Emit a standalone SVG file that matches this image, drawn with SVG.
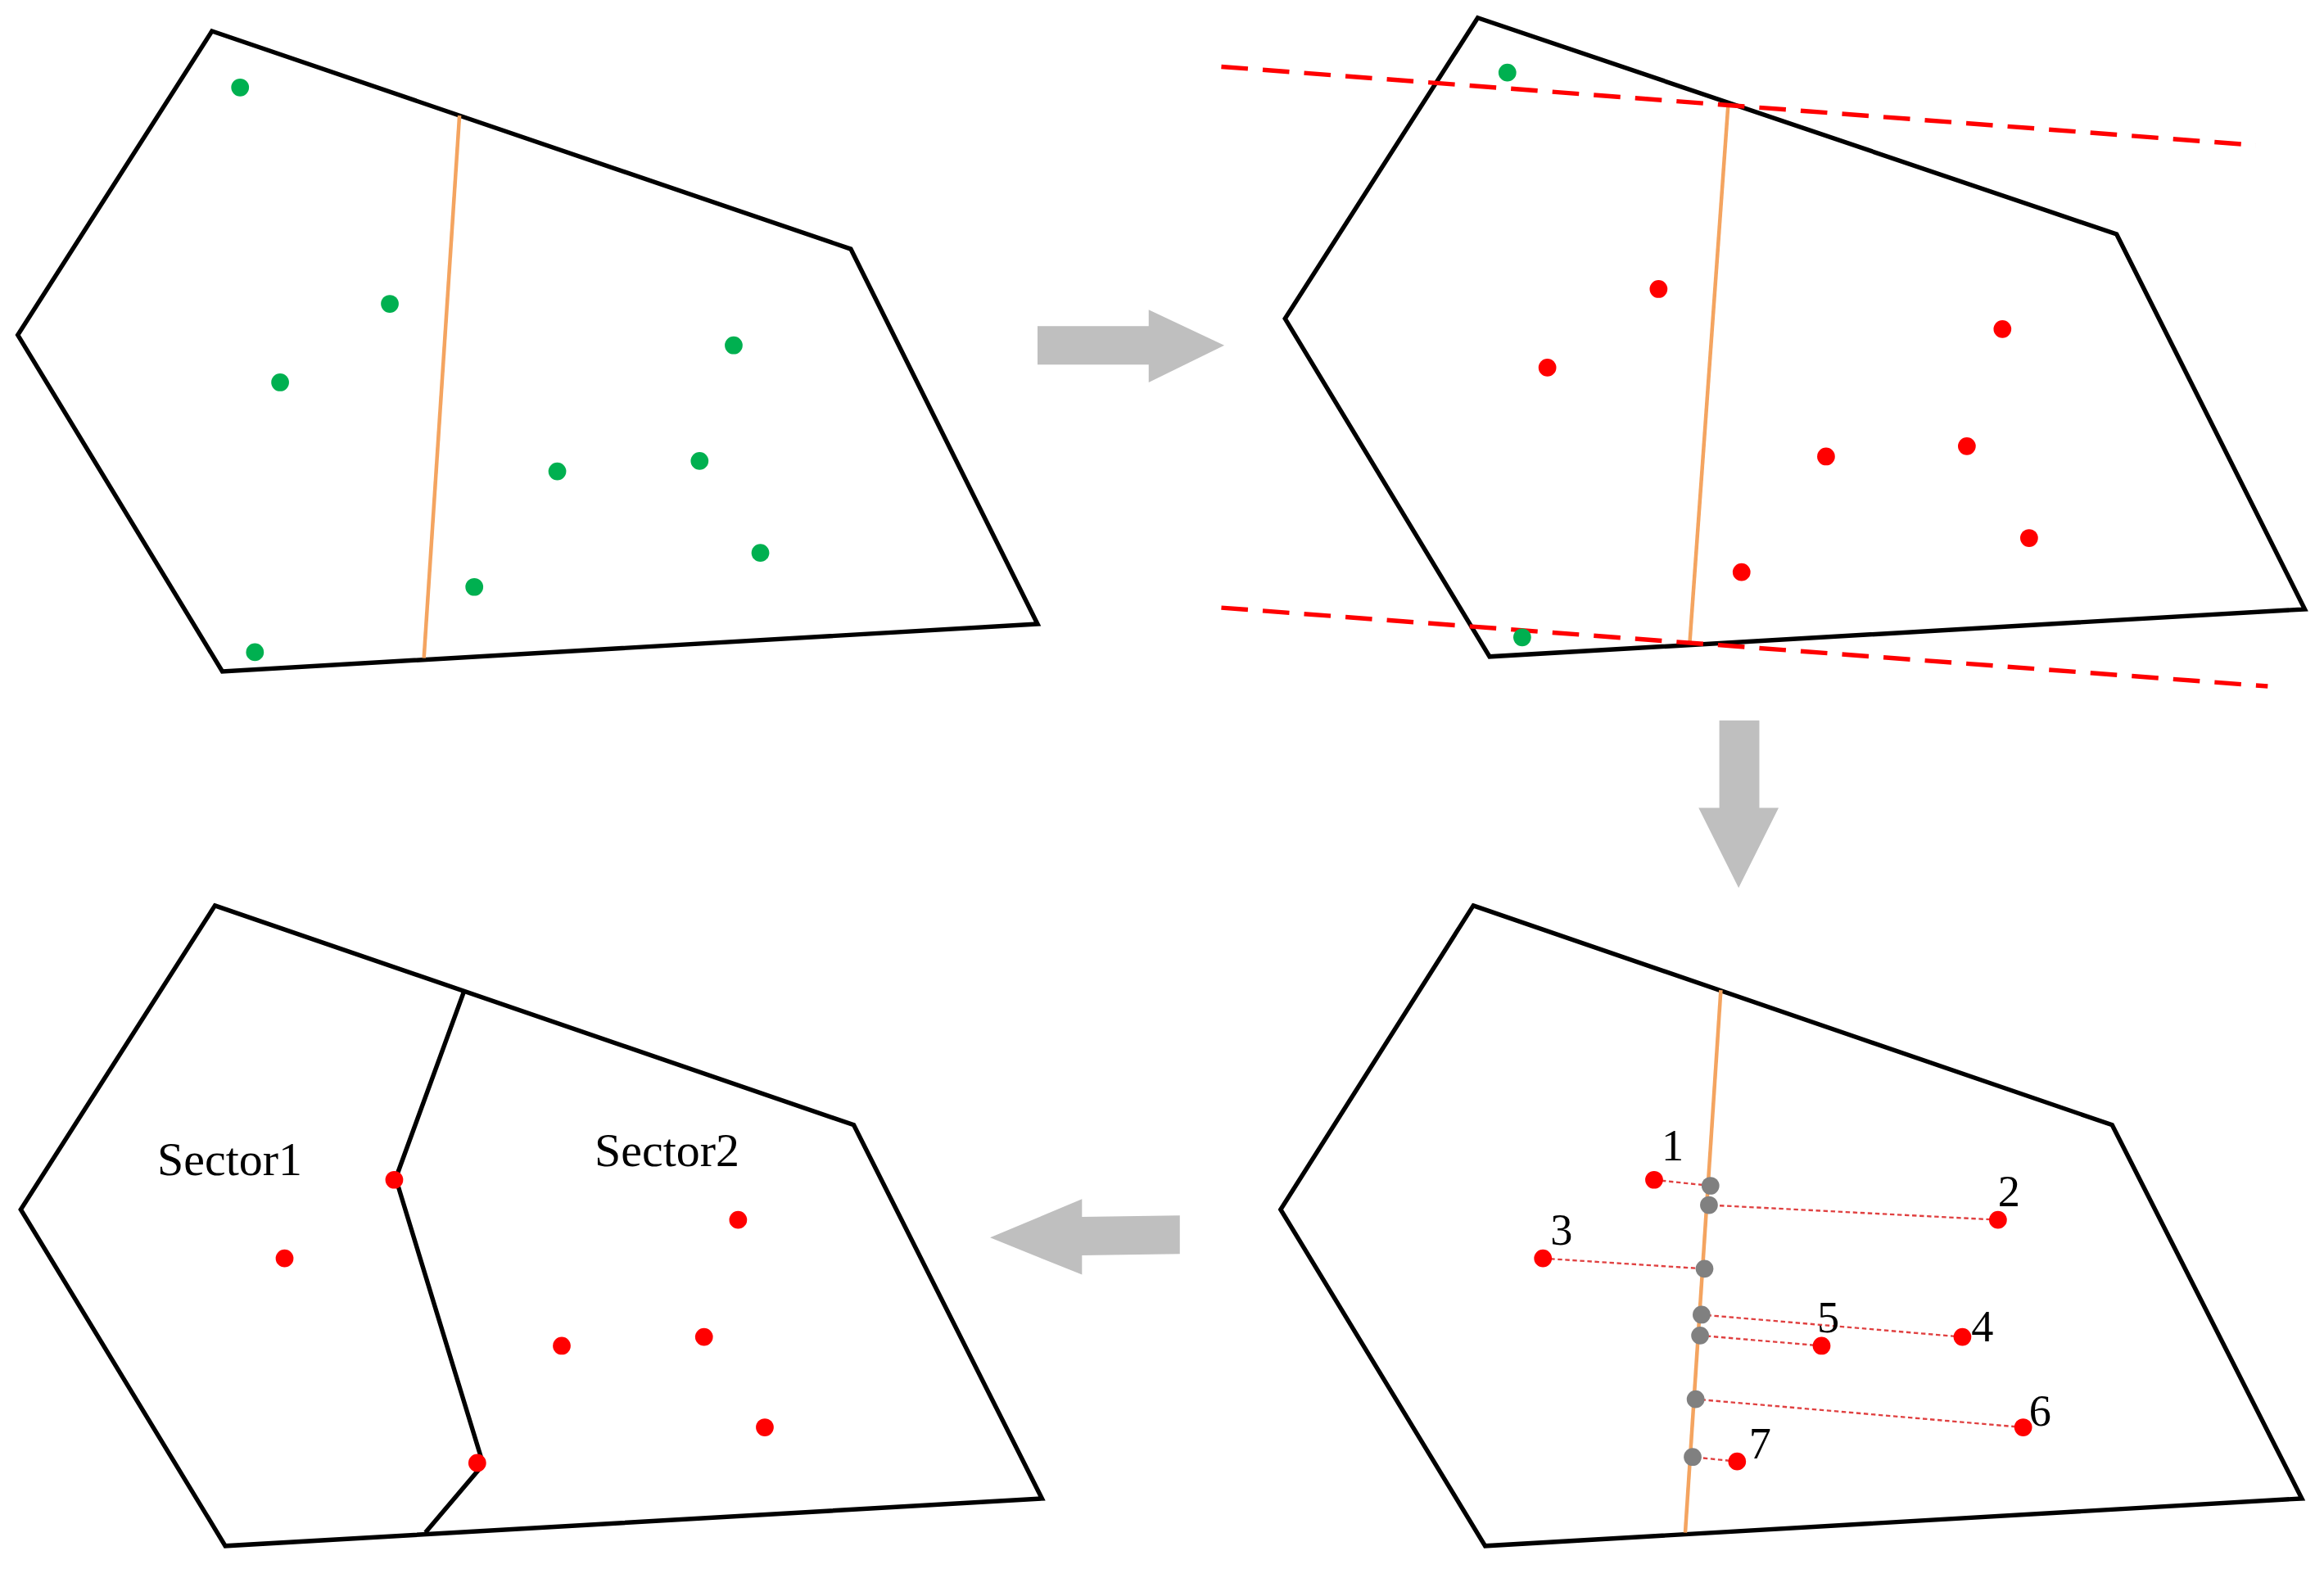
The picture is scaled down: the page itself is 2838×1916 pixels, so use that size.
<svg xmlns="http://www.w3.org/2000/svg" width="2838" height="1916" viewBox="0 0 2838 1916">
<style>
.poly{fill:none;stroke:#000;stroke-width:3}
.or{stroke:#F4A460;stroke-width:2.5}
.g{fill:#00B050}
.r{fill:#FF0000}
.gy{fill:#808080}
.dash{stroke:#FF0000;stroke-width:3;stroke-dasharray:18,10}
.dot{stroke:#E04040;stroke-width:1.3;stroke-dasharray:3,2}
.arr{fill:#BFBFBF}
text{font-family:"Liberation Serif",serif;fill:#000}
</style>
<rect width="2838" height="1916" fill="#fff"/>
<g transform="scale(1.81)">
<g id="panel1">
<polygon class="poly" points="143,21 574,168 700,421 150,453 12,226"/>
<line class="or" x1="310" y1="78" x2="286" y2="444"/>
<g class="g"><circle cx="162" cy="59" r="6"/><circle cx="263" cy="205" r="6"/><circle cx="189" cy="258" r="6"/><circle cx="495" cy="233" r="6"/><circle cx="376" cy="318" r="6"/><circle cx="472" cy="311" r="6"/><circle cx="513" cy="373" r="6"/><circle cx="320" cy="396" r="6"/><circle cx="172" cy="440" r="6"/></g>
</g>
<g id="panel2">
<polygon class="poly" points="997,12 1428,158 1555,411 1005,443 867,215"/>
<line class="or" x1="1166" y1="70" x2="1140" y2="434"/>
<line class="dash" x1="824" y1="45" x2="1522" y2="98"/>
<line class="dash" x1="824" y1="410" x2="1530" y2="463"/>
<g class="g"><circle cx="1017" cy="49" r="6"/><circle cx="1027" cy="430" r="6"/></g>
<g class="r"><circle cx="1119" cy="195" r="6"/><circle cx="1044" cy="248" r="6"/><circle cx="1351" cy="222" r="6"/><circle cx="1232" cy="308" r="6"/><circle cx="1327" cy="301" r="6"/><circle cx="1369" cy="363" r="6"/><circle cx="1175" cy="386" r="6"/></g>
</g>
<g id="panel4">
<polygon class="poly" points="994,611 1425,759 1553,1011 1002,1043 864,816"/>
<line class="or" x1="1161" y1="668" x2="1137" y2="1034"/>
<g>
<line class="dot" x1="1116" y1="796" x2="1154" y2="800"/>
<line class="dot" x1="1348" y1="823" x2="1153" y2="813"/>
<line class="dot" x1="1041" y1="849" x2="1150" y2="856"/>
<line class="dot" x1="1324" y1="902" x2="1148" y2="887"/>
<line class="dot" x1="1229" y1="908" x2="1147" y2="901"/>
<line class="dot" x1="1365" y1="963" x2="1144" y2="944"/>
<line class="dot" x1="1172" y1="986" x2="1142" y2="983"/>
</g>
<g class="r"><circle cx="1116" cy="796" r="6"/><circle cx="1348" cy="823" r="6"/><circle cx="1041" cy="849" r="6"/><circle cx="1324" cy="902" r="6"/><circle cx="1229" cy="908" r="6"/><circle cx="1365" cy="963" r="6"/><circle cx="1172" cy="986" r="6"/></g>
<g class="gy"><circle cx="1154" cy="800" r="6"/><circle cx="1153" cy="813" r="6"/><circle cx="1150" cy="856" r="6"/><circle cx="1148" cy="887" r="6"/><circle cx="1147" cy="901" r="6"/><circle cx="1144" cy="944" r="6"/><circle cx="1142" cy="983" r="6"/></g>
<g font-size="30">
<text x="1121" y="783">1</text><text x="1348" y="814">2</text><text x="1046" y="840">3</text><text x="1330" y="905">4</text><text x="1226" y="899">5</text><text x="1369" y="962">6</text><text x="1180" y="984">7</text>
</g>
</g>
<g id="panel3">
<polygon class="poly" points="145,611 576,759 703,1011 152,1043 14,816"/>
<polyline class="poly" points="313,669 267,795 326,988 287,1034"/>
<g class="r"><circle cx="266" cy="796" r="6"/><circle cx="192" cy="849" r="6"/><circle cx="498" cy="823" r="6"/><circle cx="379" cy="908" r="6"/><circle cx="475" cy="902" r="6"/><circle cx="516" cy="963" r="6"/><circle cx="322" cy="987" r="6"/></g>
<text x="155" y="793" font-size="32" text-anchor="middle">Sector1</text>
<text x="450" y="787" font-size="32" text-anchor="middle">Sector2</text>
</g>
<g id="connectors">
<polygon class="arr" points="700,220 775,220 775,209 826,233 775,258 775,246 700,246"/>
<polygon class="arr" points="1160,486 1187,486 1187,545 1200,545 1173,599 1146,545 1160,545"/>
<polygon class="arr" points="796,820 730,821 730,809 668,835 730,860 730,847 796,846"/>
</g>
</g>
</svg>
